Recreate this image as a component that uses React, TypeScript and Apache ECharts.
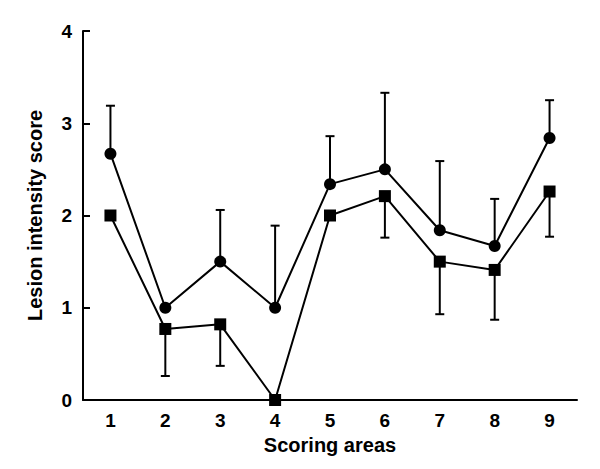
import React, { useEffect, useRef } from "react";
import * as echarts from "echarts";

const categories = ["1", "2", "3", "4", "5", "6", "7", "8", "9"];
const circleMean = [2.67, 1.0, 1.5, 1.0, 2.34, 2.5, 1.84, 1.67, 2.84];
const circleUpper: (number | null)[] = [3.19, null, 2.06, 1.89, 2.86, 3.33, 2.59, 2.18, 3.25];
const squareMean = [2.0, 0.77, 0.82, 0, 2.0, 2.21, 1.5, 1.41, 2.26];
const squareLower: (number | null)[] = [null, 0.26, 0.37, null, null, 1.76, 0.93, 0.87, 1.77];
const yTicks = [0, 1, 2, 3, 4];

const FONT = "'Liberation Sans', Arial, Helvetica, sans-serif";

function errorSeries(means: number[], bounds: (number | null)[]) {
  const data = means
    .map((m, i) => (bounds[i] == null ? null : [i, m, bounds[i]]))
    .filter((d) => d !== null);
  return {
    type: "custom",
    z: 1,
    clip: false,
    data,
    renderItem: (params: any, api: any) => {
      const i = api.value(0);
      const p0 = api.coord([i, api.value(1)]);
      const p1 = api.coord([i, api.value(2)]);
      const half = 4.5;
      const style = { stroke: "#000", lineWidth: 2 };
      return {
        type: "group",
        children: [
          { type: "line", shape: { x1: p0[0], y1: p0[1], x2: p1[0], y2: p1[1] }, style },
          { type: "line", shape: { x1: p1[0] - half, y1: p1[1], x2: p1[0] + half, y2: p1[1] }, style },
        ],
      };
    },
  };
}

export default function App() {
  const ref = useRef<HTMLDivElement>(null);
  useEffect(() => {
    document.body.style.margin = "0";
    const chart = echarts.init(ref.current!, null, { renderer: "svg" });
    chart.setOption({
      animation: false,
      backgroundColor: "#fff",
      grid: { left: 83, right: 23, top: 31, bottom: 69 },
      xAxis: {
        type: "category",
        data: categories,
        boundaryGap: true,
        name: "Scoring areas",
        nameLocation: "middle",
        nameGap: 30,
        nameTextStyle: { fontFamily: FONT, fontWeight: "bold", fontSize: 20, color: "#000" },
        axisLine: { lineStyle: { color: "#000", width: 2 } },
        axisTick: { inside: true, length: 7, alignWithLabel: true, lineStyle: { color: "#000", width: 2 } },
        axisLabel: { fontFamily: FONT, fontWeight: "bold", fontSize: 19, color: "#000", margin: 11 },
        splitLine: { show: false },
      },
      yAxis: {
        type: "value",
        min: yTicks[0],
        max: yTicks[yTicks.length - 1],
        interval: 1,
        name: "Lesion intensity score",
        nameLocation: "middle",
        nameGap: 38,
        nameTextStyle: { fontFamily: FONT, fontWeight: "bold", fontSize: 20, color: "#000" },
        axisLine: { show: true, lineStyle: { color: "#000", width: 2 } },
        axisTick: { show: true, inside: true, length: 7, lineStyle: { color: "#000", width: 2 } },
        axisLabel: { fontFamily: FONT, fontWeight: "bold", fontSize: 19, color: "#000", margin: 11 },
        splitLine: { show: false },
      },
      series: [
        errorSeries(circleMean, circleUpper),
        errorSeries(squareMean, squareLower),
        {
          type: "line",
          data: circleMean,
          symbol: "circle",
          symbolSize: 12,
          z: 3,
          clip: false,
          lineStyle: { color: "#000", width: 2 },
          itemStyle: { color: "#000" },
        },
        {
          type: "line",
          data: squareMean,
          symbol: "rect",
          symbolSize: 12,
          z: 3,
          clip: false,
          lineStyle: { color: "#000", width: 2 },
          itemStyle: { color: "#000" },
        },
      ],
    });
    return () => chart.dispose();
  }, []);
  return <div ref={ref} style={{ width: 600, height: 469 }} />;
}
